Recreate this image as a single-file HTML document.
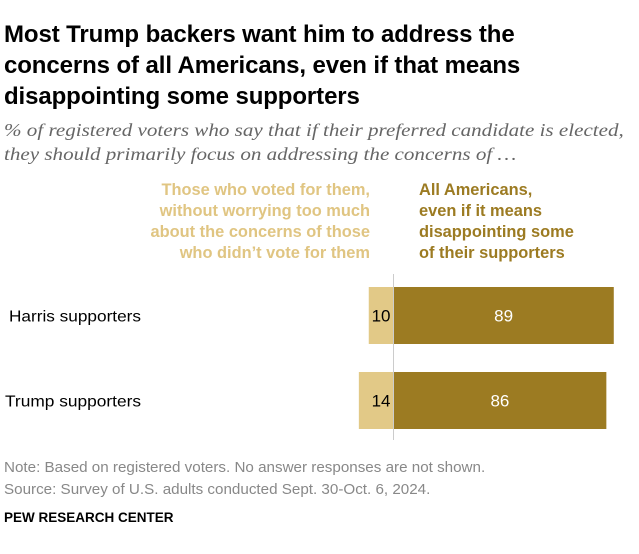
<!DOCTYPE html>
<html><head><meta charset="utf-8">
<style>
body{margin:0;width:639px;height:554px;background:#fff;font-family:"Liberation Sans",Arial,sans-serif;position:relative;overflow:hidden}
.abs{position:absolute;white-space:nowrap}
h1{position:absolute;left:4px;top:19px;margin:0;font-size:24px;line-height:31px;font-weight:bold;color:#000;white-space:nowrap;letter-spacing:-0.1px}
.sub{left:4px;top:118px;font-size:18px;line-height:24px;font-style:italic;color:#666;font-family:"Liberation Serif",serif;transform-origin:0 0;transform:scaleX(1.17)}
.hl{right:269px;top:180px;text-align:right;font-weight:bold;font-size:16.4px;line-height:21px;color:#E0C582}
.hd{left:419px;top:180px;font-weight:bold;font-size:16.4px;line-height:21px;color:#9C7B22}
.note{left:4px;font-size:15.2px;color:#888}
</style></head><body>
<h1>Most Trump backers want him to address the<br>concerns of all Americans, even if that means<br>disappointing some supporters</h1>
<div class="abs sub">% of registered voters who say that if their preferred candidate is elected,<br>they should primarily focus on addressing the concerns of …</div>
<div class="abs hl">Those who voted for them,<br>without worrying too much<br>about the concerns of those<br>who didn’t vote for them</div>
<div class="abs hd">All Americans,<br>even if it means<br>disappointing some<br>of their supporters</div>
<svg id="chart" class="abs" style="left:0;top:0" width="639" height="554"></svg>
<div class="abs note" style="top:459px">Note: Based on registered voters. No answer responses are not shown.</div>
<div class="abs note" style="top:481px">Source: Survey of U.S. adults conducted Sept. 30-Oct. 6, 2024.</div>
<div class="abs" style="left:4px;top:510px;font-size:13.5px;font-weight:bold;color:#000">PEW RESEARCH CENTER</div>
<script>
const categories=["Harris supporters","Trump supporters"];
const votersValues=[10,14];
const allAmericansValues=[89,86];
const svg=document.getElementById('chart');
const NS="http://www.w3.org/2000/svg";
const base=393.5, scale=2.475, top0=287, step=85, bh=57;
const labelX=[9,5], labelW=[132,136];
const x=v=>v*scale;
function mk(t,a){const e=document.createElementNS(NS,t);for(const k in a)e.setAttribute(k,a[k]);svg.appendChild(e);return e;}
categories.forEach((c,i)=>{
  const y=top0+i*step;
  const l=mk('text',{x:labelX[i],y:y+bh/2+6,'font-size':16,fill:'#000',textLength:labelW[i],lengthAdjust:'spacingAndGlyphs'});l.textContent=c;
  
  
  const r1=mk('rect',{x:base-x(votersValues[i]),y:y,width:x(votersValues[i]),height:bh,fill:'#E2C987'});
  
  
  const r2=mk('rect',{x:base,y:y,width:x(allAmericansValues[i]),height:bh,fill:'#9C7B22'});
  
  
  const t1=mk('text',{x:base-3,y:y+bh/2+6,'font-size':17,fill:'#000','text-anchor':'end'});t1.textContent=votersValues[i];
  
  
  const t2=mk('text',{x:base+x(allAmericansValues[i])/2,y:y+bh/2+6,'font-size':17,fill:'#fff','text-anchor':'middle'});t2.textContent=allAmericansValues[i];
  
  
});
const ax=mk('line',{x1:base,x2:base,y1:274,y2:440,stroke:'#ccc','stroke-width':1});


</script>
</body></html>
